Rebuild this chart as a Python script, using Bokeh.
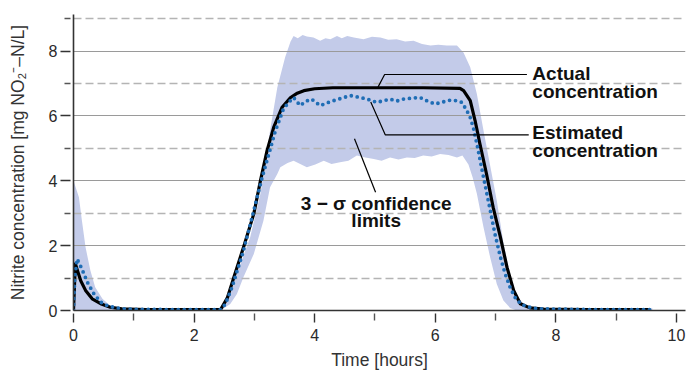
import numpy as np
from bokeh.plotting import figure
from bokeh.models import Range1d, FixedTicker
from bokeh.core.properties import value
from bokeh.embed import file_html
from bokeh.resources import INLINE

# ---------------- data ----------------
actual_t = [0, 0.03, 0.08, 0.12, 0.20, 0.31, 0.45, 0.61, 0.80, 1.20, 2.00, 2.44,
            2.55, 2.66, 2.82, 2.99, 3.10, 3.21, 3.32, 3.46, 3.60, 3.70, 3.82, 4.00,
            4.30, 5.00, 5.80, 6.41, 6.47, 6.58, 6.66, 6.74, 6.85, 6.96, 7.08, 7.19,
            7.30, 7.41, 7.57, 7.80, 8.50, 9.55]
actual_c = [0, 1.44, 1.15, 0.92, 0.62, 0.36, 0.21, 0.10, 0.05, 0.03, 0.03, 0.03,
            0.38, 1.03, 1.95, 2.98, 4.00, 4.93, 5.65, 6.27, 6.57, 6.69, 6.78, 6.84,
            6.87, 6.87, 6.87, 6.85, 6.78, 6.47, 5.86, 5.14, 4.21, 3.18, 2.26, 1.33,
            0.62, 0.21, 0.08, 0.04, 0.03, 0.03]

est_t = [0, 0.02, 0.06, 0.14, 0.23, 0.34, 0.45, 0.56, 0.70, 0.90, 1.50, 2.44,
         2.52, 2.63, 2.82, 2.99, 3.13, 3.24, 3.35, 3.48, 3.56, 3.65, 3.76, 3.85,
         3.95, 4.09, 4.20, 4.31, 4.45, 4.59, 4.73, 4.87, 5.03, 5.14, 5.25, 5.36,
         5.47, 5.61, 5.75, 5.88, 6.00, 6.12, 6.25, 6.36, 6.44, 6.52, 6.58, 6.63,
         6.70, 6.80, 6.90, 6.99, 7.08, 7.16, 7.24, 7.32, 7.42, 7.52, 7.70, 8.50, 9.59]
est_c = [0, 1.00, 1.59, 1.28, 0.87, 0.51, 0.26, 0.15, 0.08, 0.04, 0.03, 0.03,
         0.20, 0.72, 1.85, 3.08, 4.11, 4.83, 5.55, 6.21, 6.40, 6.57, 6.32, 6.45,
         6.52, 6.32, 6.40, 6.47, 6.55, 6.63, 6.58, 6.52, 6.42, 6.47, 6.52, 6.46,
         6.52, 6.55, 6.57, 6.45, 6.37, 6.43, 6.49, 6.47, 6.42, 6.18, 5.95, 5.65,
         5.05, 4.11, 3.20, 2.36, 1.65, 1.13, 0.72, 0.41, 0.20, 0.12, 0.05, 0.03, 0.03]

upper_t = [0, 0.09, 0.14, 0.20, 0.28, 0.36, 0.48, 0.61, 0.80, 2.44, 2.55, 2.77,
           2.93, 3.10, 3.26, 3.38, 3.51, 3.60, 3.65, 3.72, 3.80, 3.87, 3.98, 4.09,
           4.18, 4.26, 4.37, 4.45, 4.54, 4.65, 4.81, 4.95, 5.09, 5.22, 5.36, 5.50,
           5.64, 5.78, 5.92, 6.05, 6.19, 6.36, 6.47, 6.58, 6.69, 6.80, 6.91, 7.02,
           7.13, 7.24, 7.35, 7.52, 7.70, 9.60]
upper_c = [4.00, 3.49, 2.77, 1.95, 1.23, 0.72, 0.36, 0.15, 0.07, 0.07, 0.51, 1.44,
           2.26, 3.60, 5.55, 6.88, 7.81, 8.30, 8.47, 8.40, 8.50, 8.45, 8.42, 8.32,
           8.40, 8.37, 8.47, 8.40, 8.47, 8.42, 8.37, 8.44, 8.42, 8.35, 8.37, 8.30,
           8.32, 8.22, 8.17, 8.20, 8.17, 8.17, 7.95, 7.50, 6.68, 5.55, 4.47, 3.39,
           2.10, 1.10, 0.45, 0.10, 0.07, 0.07]

lower_t = [0, 2.44, 2.60, 2.71, 2.82, 2.99, 3.15, 3.26, 3.38, 3.43, 3.55, 3.65,
           3.76, 3.87, 4.01, 4.15, 4.28, 4.42, 4.56, 4.70, 4.84, 4.98, 5.11, 5.25,
           5.39, 5.53, 5.66, 5.80, 5.94, 6.08, 6.22, 6.36, 6.45, 6.55, 6.62, 6.69,
           6.80, 6.91, 7.02, 7.13, 7.24, 7.35, 9.60]
lower_c = [0, 0, 0.20, 0.51, 1.03, 1.74, 2.77, 3.80, 4.21, 4.42, 4.55, 4.62,
           4.52, 4.42, 4.50, 4.62, 4.52, 4.57, 4.62, 4.78, 4.72, 4.67, 4.62, 4.72,
           4.66, 4.72, 4.70, 4.78, 4.75, 4.83, 4.80, 4.72, 4.78, 4.50, 4.10, 3.60,
           2.57, 1.64, 0.82, 0.31, 0.08, 0.0, 0.0]

y_major = [0, 2, 4, 6, 8]
y_minor = [1, 3, 5, 7, 9]
x_major = [0, 2, 4, 6, 8, 10]
x_minor = [1, 3, 5, 7, 9]

# annotation labels and leader lines
label_texts = ["Actual", "concentration", "Estimated", "concentration"]
label_x = [7.61, 7.61, 7.61, 7.61]
label_y = [7.30, 6.76, 5.50, 4.94]
sigma_texts = ["3 \u2212 \u03c3 confidence", "limits"]
sigma_x = [5.02, 5.02]
sigma_y = [3.30, 2.78]
leader_xs = [[5.05, 5.16, 7.52], [4.93, 5.17, 7.55], [4.66, 5.01]]
leader_ys = [[6.89, 7.28, 7.28], [6.43, 5.42, 5.42], [5.30, 3.65]]

FONT = "Liberation Sans"

p = figure(width=689, height=376, x_range=Range1d(0, 10.15), y_range=Range1d(0, 9.13),
           output_backend="svg", toolbar_location=None,
           min_border_left=73, min_border_right=4, min_border_top=14, min_border_bottom=66)
p.outline_line_color = None
p.background_fill_color = "white"
p.border_fill_color = "white"

# grids
p.xgrid.visible = False
yt = FixedTicker(ticks=y_major, minor_ticks=y_minor)
xt = FixedTicker(ticks=x_major, minor_ticks=x_minor)
p.yaxis.ticker = yt
p.xaxis.ticker = xt
p.ygrid.ticker = yt
p.ygrid.grid_line_color = "#9a9a9a"
p.ygrid.grid_line_width = 1
p.ygrid.minor_grid_line_color = "#b4b4b4"
p.ygrid.minor_grid_line_width = 1.3
p.ygrid.minor_grid_line_dash = "8 4"

# axes
for ax in (p.xaxis, p.yaxis):
    ax.axis_line_color = "#333333"
    ax.axis_line_width = 1.6
    ax.major_tick_line_color = "#333333"
    ax.minor_tick_line_color = "#555555"
    ax.major_tick_line_width = 1.4
    ax.minor_tick_line_width = 1.4
    ax.major_label_text_font = FONT
    ax.major_label_text_font_size = "16px"
    ax.major_label_text_color = "#2a2a2a"
    ax.axis_label_text_font = FONT
    ax.axis_label_text_font_size = "17.5px"
    ax.axis_label_text_font_style = "normal"
    ax.axis_label_text_color = "#333333"

p.xaxis.major_tick_in = -3
p.xaxis.major_tick_out = 12
p.xaxis.minor_tick_in = -3
p.xaxis.minor_tick_out = 10
p.xaxis.major_label_standoff = 6
p.xaxis.axis_label = "Time [hours]"
p.xaxis.axis_label_standoff = 6

p.yaxis.major_tick_in = -3
p.yaxis.major_tick_out = 13
p.yaxis.minor_tick_in = -3
p.yaxis.minor_tick_out = 9
p.yaxis.major_label_standoff = 3
p.yaxis.axis_label = "Nitrite concentration [mg NO\u2082\u207b\u2013N/L]"
p.yaxis.axis_label_standoff = 18

# confidence band
band_x = list(upper_t) + list(lower_t[::-1])
band_y = list(upper_c) + list(lower_c[::-1])
p.patch(band_x, band_y, fill_color="#c3cbe9", line_color=None, level="image")

# actual concentration
p.line(actual_t, actual_c, line_color="black", line_width=3.2, line_join="round")

# estimated concentration (dotted)
p.line(est_t, est_c, line_color="#1f6db5", line_width=3.8, line_dash="0 6",
       line_cap="round", line_join="round")

# leader lines
p.multi_line(leader_xs, leader_ys, line_color="black", line_width=1.2)

# labels
p.text(label_x, label_y, text=label_texts, text_font=value(FONT), text_font_style="bold",
       text_font_size="19px", text_align="left", text_baseline="middle", text_color="#111111")
p.text(sigma_x, sigma_y, text=sigma_texts, text_font=value(FONT), text_font_style="bold",
       text_font_size="19px", text_align="center", text_baseline="middle", text_color="#111111")

open("out.html", "w").write(file_html(p, INLINE))
